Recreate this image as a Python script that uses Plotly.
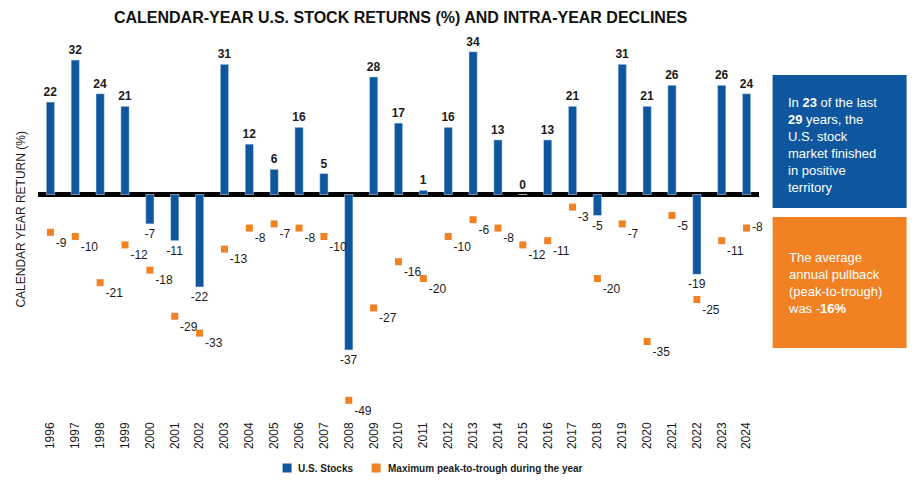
import plotly.graph_objects as go

years = [str(y) for y in range(1996, 2025)]
returns = [22, 32, 24, 21, -7, -11, -22, 31, 12, 6, 16, 5, -37, 28, 17, 1, 16, 34, 13, 0,
           13, 21, -5, 31, 21, 26, -19, 26, 24]
declines = [-9, -10, -21, -12, -18, -29, -33, -13, -8, -7, -8, -10, -49, -27, -16, -20, -10,
            -6, -8, -12, -11, -3, -20, -7, -35, -5, -25, -11, -8]

BLUE = "#0E579E"
ORANGE = "#F28124"
FONT = "Liberation Sans, Arial, sans-serif"
OFF = 8  # page body margin compensation

# plot area in page pixels
PL, PR, PT, PB = 38.4, 759.4, 30, 410
W, H = 923, 494
PW, PH = PR - PL, PB - PT


def px(x):
    return (x - PL) / PW


def py(y):
    return (PB - y) / PH


decl_pos = ["bottom right"] * len(years)
decl_pos[-1] = "middle right"

bar_text = [("<b>%d</b>" % v) if v >= 0 else str(v) for v in returns]

fig = go.Figure()
fig.add_trace(go.Bar(
    x=years, y=returns, name="U.S. Stocks", marker_color=BLUE,
    text=bar_text, textposition="outside", cliponaxis=False,
    constraintext="none",
    textfont=dict(size=12, color="#1a1a1a", family=FONT),
))
fig.add_trace(go.Scatter(
    x=years, y=declines, name="Maximum peak-to-trough during the year", mode="markers+text",
    marker=dict(symbol="square", size=7, color=ORANGE),
    text=[str(v) for v in declines], textposition=decl_pos, cliponaxis=False,
    textfont=dict(size=12, color="#1a1a1a", family=FONT),
))

fig.update_layout(
    width=W, height=H,
    margin=dict(l=PL - OFF, r=W - PR + OFF, t=PT - OFF, b=H - PB + OFF, autoexpand=False),
    paper_bgcolor="white", plot_bgcolor="white",
    font=dict(family=FONT, color="#1a1a1a"),
    bargap=0.666,
    showlegend=False,
    title=dict(text="<b>CALENDAR-YEAR U.S. STOCK RETURNS (%) AND INTRA-YEAR DECLINES</b>",
               x=px(401), xref="paper", xanchor="center", y=1 - (17 - OFF) / H, yref="container",
               yanchor="middle", font=dict(size=16, color="#111111", family=FONT)),
    xaxis=dict(type="category", range=[-0.5, 28.5], tickangle=-90, showgrid=False, showline=False,
               ticks="", tickfont=dict(size=12, color="#1a1a1a"), ticklabelstandoff=9,
               automargin=False),
    yaxis=dict(range=[-(PB - 194.5) / 4.2, (194.5 - PT) / 4.2], showticklabels=False,
               showgrid=False, ticks="", zeroline=True, zerolinecolor="black", zerolinewidth=5,
               automargin=False),
)

fig.add_annotation(text="CALENDAR YEAR RETURN (%)", textangle=-90, xref="paper", yref="paper",
                   x=px(21), y=py(220), xanchor="center", yanchor="middle",
                   showarrow=False, font=dict(size=12, color="#1a1a1a"))

# Legend (drawn manually)
ly = py(468)
sq = 4.5 / PH
fig.add_shape(type="rect", xref="paper", yref="paper", x0=px(283), x1=px(292), y0=ly - sq, y1=ly + sq,
              fillcolor=BLUE, line=dict(width=0))
fig.add_annotation(text="<b>U.S. Stocks</b>", xref="paper", yref="paper", x=px(296), y=ly,
                   xanchor="left", yanchor="middle", showarrow=False,
                   font=dict(size=10, color="#1a1a1a"))
fig.add_shape(type="rect", xref="paper", yref="paper", x0=px(372), x1=px(381), y0=ly - sq, y1=ly + sq,
              fillcolor=ORANGE, line=dict(width=0))
fig.add_annotation(text="<b>Maximum peak-to-trough during the year</b>", xref="paper", yref="paper",
                   x=px(386), y=ly, xanchor="left", yanchor="middle", showarrow=False,
                   font=dict(size=10, color="#1a1a1a"))

# Info boxes
fig.add_shape(type="rect", xref="paper", yref="paper", x0=px(773), x1=px(907), y0=py(208), y1=py(75),
              fillcolor=BLUE, line=dict(width=0), layer="above")
fig.add_shape(type="rect", xref="paper", yref="paper", x0=px(773), x1=px(907), y0=py(348), y1=py(217),
              fillcolor=ORANGE, line=dict(width=0), layer="above")
fig.add_annotation(
    text="In <b>23</b> of the last<br><b>29</b> years, the<br>U.S. stock<br>market finished<br>in positive<br>territory",
    xref="paper", yref="paper", x=px(786), y=py(93), xanchor="left", yanchor="top",
    align="left", showarrow=False, font=dict(size=13, color="white"))
fig.add_annotation(
    text="The average<br>annual pullback<br>(peak-to-trough)<br>was -<b>16%</b>",
    xref="paper", yref="paper", x=px(786), y=py(248), xanchor="left", yanchor="top",
    align="left", showarrow=False, font=dict(size=13, color="white"))

fig.write_html("out.html")
